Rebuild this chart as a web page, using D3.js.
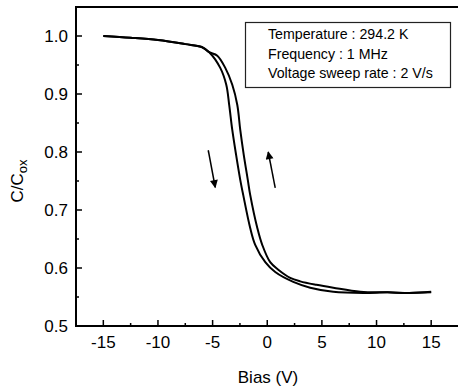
<!DOCTYPE html>
<html>
<head>
<meta charset="utf-8">
<script src="https://cdn.jsdelivr.net/npm/d3@7"></script>
<style>
  body { margin: 0; background: #fff; }
  svg { display: block; font-family: "Liberation Sans", Arial, sans-serif; }
</style>
</head>
<body>
<div id="chart"></div>
<script>
// forward sweep (-15 -> 15), drops first
var biasDown = [-15, -12.5, -10, -7.5, -6, -5.31, -4.3, -3.75, -3.48, -3.2, -2.85, -2.47, -2.2, -1.56, -1.1, -0.18, 0.73, 2.38, 3.93, 6.04, 8.78, 11, 13, 15];
var capDown  = [1.0, 0.997, 0.993, 0.986, 0.981, 0.972, 0.945, 0.916, 0.881, 0.838, 0.795, 0.752, 0.726, 0.669, 0.640, 0.610, 0.593, 0.576, 0.566, 0.559, 0.557, 0.558, 0.557, 0.558];

// reverse sweep (15 -> -15), shifted right
var biasUp = [-15, -12.5, -10, -7.5, -6, -5.31, -4.57, -3.84, -3.2, -2.74, -2.47, -2.15, -1.78, -1.56, -0.91, -0.46, 0.27, 1.01, 2.1, 3.02, 4.5, 6.04, 8.51, 11, 13, 15];
var capUp  = [1.0, 0.997, 0.993, 0.986, 0.981, 0.972, 0.966, 0.945, 0.916, 0.881, 0.838, 0.795, 0.752, 0.726, 0.669, 0.640, 0.610, 0.597, 0.583, 0.577, 0.571, 0.566, 0.559, 0.558, 0.557, 0.559];

var xTicks = [-15, -10, -5, 0, 5, 10, 15];
var yTicks = [0.5, 0.6, 0.7, 0.8, 0.9, 1.0];

var legendLines = ["Temperature : 294.2 K", "Frequency :  1 MHz", "Voltage sweep rate : 2 V/s"];

// arrows: [tail bias, tail C, tip bias, tip C]
var arrowDown = [-5.4, 0.803, -4.76, 0.739];
var arrowUp = [0.73, 0.738, 0.09, 0.800];

var width = 458, height = 387;
var svg = d3.select("#chart").append("svg")
  .attr("width", width).attr("height", height);

var x = d3.scaleLinear().domain([-17.5, 17.5]).range([76, 458.5]);
var y = d3.scaleLinear().domain([0.5, 1.05]).range([326, 7]);

// minor ticks
var xMinor = d3.range(-15, 15.1, 2.5);
var yMinor = d3.range(0.5, 1.051, 0.05);

var g = svg.append("g");

g.selectAll(".xminor").data(xMinor).enter().append("line")
  .attr("x1", d => x(d)).attr("x2", d => x(d))
  .attr("y1", y(0.5)).attr("y2", d => y(0.5) - (Math.abs(d % 5) < 0.01 ? 6 : 3))
  .attr("stroke", "#000").attr("stroke-width", 1.5);

g.selectAll(".yminor").data(yMinor).enter().append("line")
  .attr("y1", d => y(d)).attr("y2", d => y(d))
  .attr("x1", x(-17.5)).attr("x2", d => x(-17.5) + (Math.abs(Math.round(d * 100) % 10) < 0.5 ? 6 : 3))
  .attr("stroke", "#000").attr("stroke-width", 1.5);

// frame (left, bottom, top)
g.append("path")
  .attr("d", "M" + x(17.5) + "," + y(1.05) + "H" + x(-17.5) + "V" + y(0.5) + "H" + x(17.5))
  .attr("fill", "none").attr("stroke", "#000").attr("stroke-width", 2);

// tick labels
g.selectAll(".xl").data(xTicks).enter().append("text")
  .attr("x", d => x(d)).attr("y", 348)
  .attr("text-anchor", "middle").attr("font-size", 17)
  .text(d => d);

g.selectAll(".yl").data(yTicks).enter().append("text")
  .attr("x", 68).attr("y", d => y(d) + 6)
  .attr("text-anchor", "end").attr("font-size", 17)
  .text(d => d.toFixed(1));

// axis titles
svg.append("text")
  .attr("x", 268).attr("y", 383)
  .attr("text-anchor", "middle").attr("font-size", 17)
  .text("Bias (V)");

var yl = svg.append("text")
  .attr("transform", "translate(23,181) rotate(-90)")
  .attr("text-anchor", "middle").attr("font-size", 17);
yl.append("tspan").text("C/C");
yl.append("tspan").attr("dy", 4).attr("font-size", 13).text("ox");

// curves
var line = d3.line()
  .x(d => x(d[0])).y(d => y(d[1]))
  .curve(d3.curveCatmullRom.alpha(0.5));

g.append("path")
  .datum(d3.zip(biasDown, capDown))
  .attr("d", line)
  .attr("fill", "none").attr("stroke", "#000").attr("stroke-width", 2);

g.append("path")
  .datum(d3.zip(biasUp, capUp))
  .attr("d", line)
  .attr("fill", "none").attr("stroke", "#000").attr("stroke-width", 2);

// arrows
svg.append("defs").append("marker")
  .attr("id", "head")
  .attr("viewBox", "0 0 10 10")
  .attr("refX", 9).attr("refY", 5)
  .attr("markerWidth", 11).attr("markerHeight", 8)
  .attr("markerUnits", "userSpaceOnUse")
  .attr("orient", "auto")
  .append("path").attr("d", "M0,0L10,5L0,10Z").attr("fill", "#000");

[arrowDown, arrowUp].forEach(function(a) {
  g.append("line")
    .attr("x1", x(a[0])).attr("y1", y(a[1]))
    .attr("x2", x(a[2])).attr("y2", y(a[3]))
    .attr("stroke", "#000").attr("stroke-width", 1.5)
    .attr("marker-end", "url(#head)");
});

// legend box
var lg = svg.append("g");
lg.append("rect")
  .attr("x", 245.5).attr("y", 22.5).attr("width", 205).attr("height", 65)
  .attr("fill", "#fff").attr("stroke", "#222").attr("stroke-width", 1.2);
lg.selectAll("text").data(legendLines).enter().append("text")
  .attr("x", 268).attr("y", (d, i) => 39 + i * 19.5)
  .attr("font-size", 14.2)
  .text(d => d);
</script>
</body>
</html>
